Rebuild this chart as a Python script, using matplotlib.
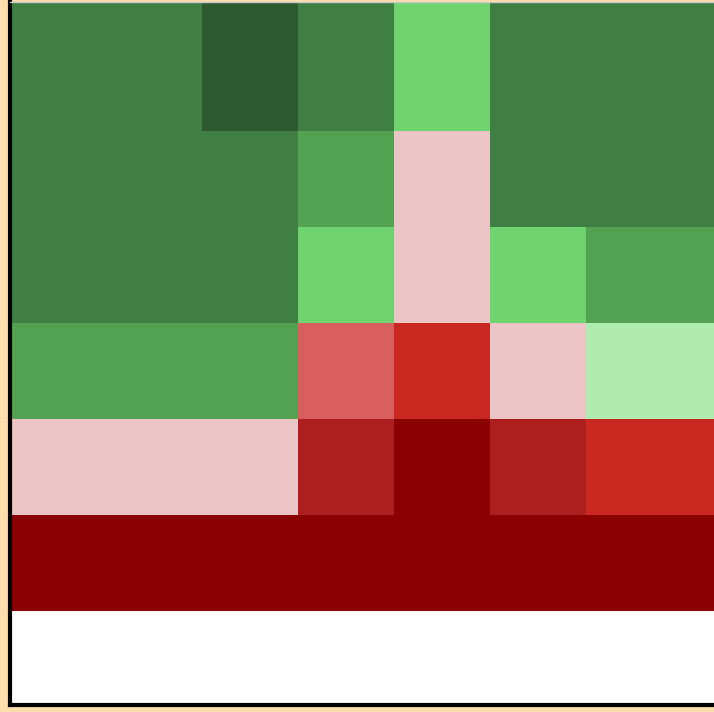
import numpy as np
import matplotlib.pyplot as plt
from matplotlib.colors import ListedColormap, BoundaryNorm

# score per cell, rows top to bottom, nan = no data
row0 = [4, 4, 5, 4, 2, 4, 4, 4]
row1 = [4, 4, 4, 3, -1, 4, 4, 4]
row2 = [4, 4, 4, 2, -1, 2, 3, 3]
row3 = [3, 3, 3, -2, -3, -1, 1, 1]
row4 = [-1, -1, -1, -4, -5, -4, -3, -3]
row5 = [-5, -5, -5, -5, -5, -5, -5, -5]
row6 = [np.nan] * 8

levels = [-5, -4, -3, -2, -1, 1, 2, 3, 4, 5]
level_colors = ['#8b0000', '#ad1f1f', '#c8281f', '#d95f5f', '#ebc5c5',
                '#b0ebb0', '#6fd36f', '#52a252', '#407f44', '#2d5a2f']

data = np.array([row0, row1, row2, row3, row4, row5, row6], dtype=float)

cmap = ListedColormap(level_colors)
cmap.set_bad('white')
bounds = [-5.5, -4.5, -3.5, -2.5, -1.5, 0, 1.5, 2.5, 3.5, 4.5, 5.5]
norm = BoundaryNorm(bounds, cmap.N)

# top row is drawn taller, bottom row slightly clipped by the frame
row_heights = [1.35, 1, 1, 1, 1, 1, 0.98]
y_edges = np.concatenate([[0], np.cumsum(row_heights)])
x_edges = np.arange(data.shape[1] + 1)

W, H = 714, 712
fig = plt.figure(figsize=(W / 100, H / 100), dpi=100, facecolor='#ffdead')
ax = fig.add_axes([10 / W, 7 / H, 768 / W, 703.5 / H])
ax.set_facecolor('white')

ax.pcolormesh(x_edges, y_edges, np.ma.masked_invalid(data), cmap=cmap, norm=norm,
              edgecolors='none', linewidth=0, antialiased=False)
ax.set_xlim(0, 8)
ax.set_ylim(y_edges[-1], 0)
ax.set_xticks([])
ax.set_yticks([])

for side in ['left', 'bottom']:
    ax.spines[side].set_color('black')
    ax.spines[side].set_linewidth(3)
ax.spines['top'].set_color('#c8c8c8')
ax.spines['top'].set_linewidth(1)
ax.spines['right'].set_visible(False)

fig.savefig('out.png', dpi=100, facecolor=fig.get_facecolor())
